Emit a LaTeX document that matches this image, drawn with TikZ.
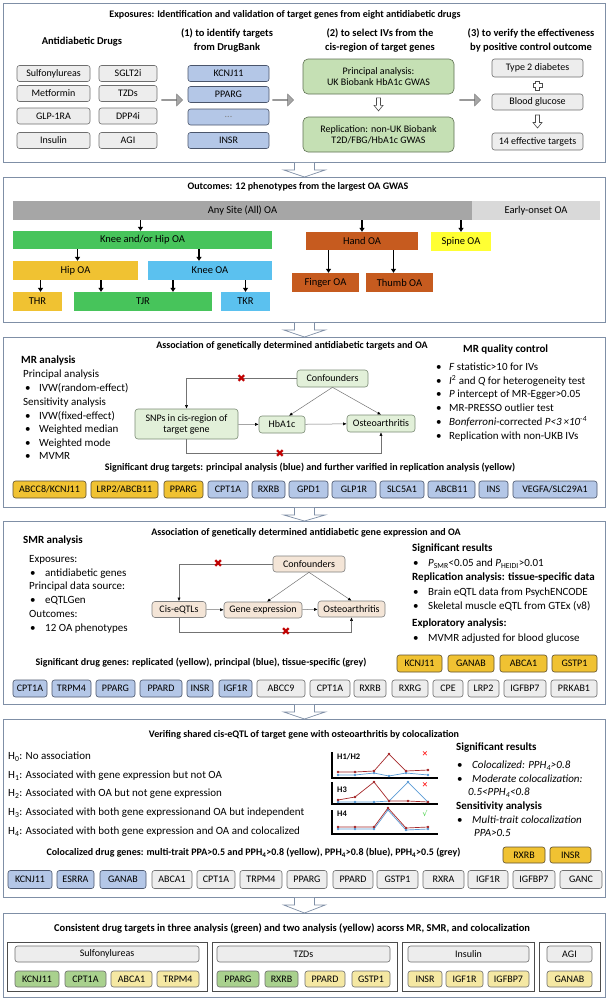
\documentclass[tikz,border=0pt]{standalone}
\usepackage{fontspec}
\setmainfont{Carlito}
\newfontfamily\symfont{DejaVu Sans}
\usepackage{xcolor}
\usetikzlibrary{arrows.meta, calc, shapes.arrows}

\definecolor{panelline}{HTML}{7F8FA6}
\definecolor{drugfill}{HTML}{EDEDED}
\definecolor{drugline}{HTML}{6E6E6E}
\definecolor{tgtfill}{HTML}{B4C7E7}
\definecolor{tgtline}{HTML}{4A556B}
\definecolor{ivfill}{HTML}{C5E0B4}
\definecolor{ivline}{HTML}{5E7052}
\definecolor{mrfill}{HTML}{E2F0D9}
\definecolor{mrline}{HTML}{7A8A74}
\definecolor{smrfill}{HTML}{F4E5D7}
\definecolor{smrline}{HTML}{7F7F7F}
\definecolor{repfill}{HTML}{F0C232}
\definecolor{repline}{HTML}{5E5030}
\definecolor{oagray}{HTML}{A6A6A6}
\definecolor{oalight}{HTML}{D9D9D9}
\definecolor{oagreen}{HTML}{47C45B}
\definecolor{oagold}{HTML}{F0C232}
\definecolor{oablue}{HTML}{5BC1EF}
\definecolor{oaorange}{HTML}{C65B1F}
\definecolor{oayellow}{HTML}{FFFF33}
\definecolor{consgreen}{HTML}{A9D18E}
\definecolor{consyellow}{HTML}{F5E8A3}
\definecolor{xred}{HTML}{C00000}
\definecolor{lnred}{HTML}{A5282A}
\definecolor{lnblue}{HTML}{5B9BD5}
\definecolor{okgreen}{HTML}{33CC33}

\tikzset{
  panel/.style={draw=panelline, line width=0.9pt, anchor=north west, inner sep=0pt},
  callout/.style={draw=panelline, line width=0.7pt, fill=white},
  ptitle/.style={inner sep=0pt, font=\fontsize{10}{12}\selectfont\bfseries},
  head/.style={inner sep=0pt, align=center, font=\fontsize{10.5}{14}\selectfont\bfseries},
  gbox/.style={draw, rounded corners=2.5pt, inner sep=0pt, align=center, line width=0.6pt, font=\fontsize{10}{11}\selectfont},
  drug/.style={gbox, fill=drugfill, draw=drugline},
  tgt/.style={gbox, fill=tgtfill, draw=tgtline},
  rep/.style={gbox, fill=repfill, draw=repline},
  tis/.style={gbox, fill=drugfill, draw=drugline},
  iv/.style={gbox, fill=ivfill, draw=ivline, rounded corners=5pt},
  mrbox/.style={gbox, fill=mrfill, draw=mrline, rounded corners=3pt},
  smrbox/.style={gbox, fill=smrfill, draw=smrline, rounded corners=3pt},
  grp/.style={draw=black!70, line width=0.6pt, inner sep=0pt},
  three/.style={gbox, fill=consgreen, draw=drugline},
  two/.style={gbox, fill=consyellow, draw=drugline},
  garrow/.style={single arrow, draw=black!55, fill=black!35, inner sep=0pt,
    minimum height=21pt, minimum width=12pt, single arrow head extend=3pt},
  harrow/.style={draw=black!70, fill=white, line width=0.6pt},
  oa/.style={inner sep=0pt, font=\fontsize{10.5}{12}\selectfont},
  oaarrow/.style={line width=1.6pt, -{Triangle[width=5pt,length=4pt]}},
  flow/.style={draw=black!55, line width=0.5pt, -{Latex[length=3.5pt,width=3pt,color=black]}},
  xmark/.style={inner sep=0pt, text=xred, font=\symfont\fontsize{11}{11}\selectfont},
  txt/.style={anchor=west, inner sep=0pt, font=\fontsize{11}{13}\selectfont, text height=7.5pt, text depth=2.5pt},
  btxt/.style={txt, font=\fontsize{11}{13}\selectfont\bfseries},
  itxt/.style={txt, font=\fontsize{11}{13}\selectfont\itshape},
}

\begin{document}
\begin{tikzpicture}[x=1pt, y=-1pt]
\useasboundingbox (0,0) rectangle (609,1004);

% panels
\node[panel, minimum width=602, minimum height=159] (p1) at (3,3) {};
\node[panel, minimum width=602, minimum height=145] (p2) at (3,177) {};
\node[panel, minimum width=602, minimum height=170] (p3) at (3,337) {};
\node[panel, minimum width=602, minimum height=183] (p4) at (3,521) {};
\node[panel, minimum width=602, minimum height=178] (p5) at (3,719) {};
\node[panel, minimum width=602, minimum height=84] (p6) at (3,913) {};
\foreach \a/\b in {p1/p2, p2/p3, p3/p4, p4/p5, p5/p6}
  \filldraw[callout] ($(\a.south)+(-10,0)$) -- ++(0,7) -- ++(-11,0) -- (\b.north)
    -- ($(\a.south)+(21,7)$) -- ++(-11,0) -- ++(0,-7);

% exposures
\node[ptitle] (t1) at (285,15) {Exposures: Identification and validation of target genes from eight antidiabetic drugs};
\node[head] (hdrug) at (82,42) {Antidiabetic Drugs};
\node[head] (hid) at (227,40) {(1) to identify targets\\from DrugBank};
\node[head] (hiv) at (380,40) {(2) to select IVs from the\\cis-region of target genes};
\node[head] (hpc) at (531,40) {(3) to verify the effectiveness\\by positive control outcome};
\foreach \y/\a/\b [count=\i] in {73.5/Sulfonylureas/SGLT2i, 93.5/Metformin/TZDs, 116/GLP-1RA/DPP4i, 140.5/Insulin/AGI} {
  \node[drug, minimum width=73, minimum height=16] (da\i) at (53.5,\y) {\a};
  \node[drug, minimum width=58, minimum height=16] (db\i) at (128,\y) {\b};
}
\foreach \y/\t [count=\i] in {73.5/KCNJ11, 94.5/PPARG, 117/\textcolor{black!50}{...}, 140.5/INSR}
  \node[tgt, minimum width=81, minimum height=16] (tg\i) at (228.5,\y) {\t};
\node[garrow] (ga1) at (172,100) {};
\node[garrow] (ga2) at (283,100) {};
\node[garrow] (ga3) at (470,100) {};
\node[iv, minimum width=151, minimum height=35] (ivp) at (378.5,76.5) {Principal analysis:\\UK Biobank HbA1c GWAS};
\node[iv, minimum width=151, minimum height=35] (ivr) at (378.5,134.5) {Replication: non-UK Biobank\\T2D/FBG/HbA1c GWAS};
\node[drug, minimum width=91, minimum height=18] (t2d) at (537.5,68) {Type 2 diabetes};
\node[drug, minimum width=91, minimum height=16] (bg) at (537.5,102) {Blood glucose};
\node[drug, minimum width=91, minimum height=17] (eff) at (537.5,141.5) {14 effective targets};
\coordinate (hd1) at ($(ivp.south)!0.45!(ivr.north)$);
\coordinate (hd2) at ($(bg.south)!0.5!(eff.north)$);
\foreach \c in {hd1, hd2}
  \draw[harrow, shift={(\c)}] (-2,-6.5) -- (2,-6.5) -- (2,1) -- (4.5,1) -- (0,6.5) -- (-4.5,1) -- (-2,1) -- cycle;
\coordinate (pl) at ($(t2d.south)!0.5!(bg.north)$);
\draw[harrow, shift={(pl)}] (-1.8,-4.6) -- (1.8,-4.6) -- (1.8,-1.8) -- (4.6,-1.8)
  -- (4.6,1.8) -- (1.8,1.8) -- (1.8,4.6) -- (-1.8,4.6) -- (-1.8,1.8) -- (-4.6,1.8) -- (-4.6,-1.8) -- (-1.8,-1.8) -- cycle;

% outcomes
\node[ptitle] (t2) at (298,187) {Outcomes: 12 phenotypes from the largest OA GWAS};
\node[oa, fill=oagray, minimum width=459, minimum height=19] (anysite) at (242.5,210.5) {Any Site (All) OA};
\node[oa, fill=oalight, minimum width=128, minimum height=19] (early) at (536,210.5) {Early-onset OA};
\node[oa, fill=oagreen, minimum width=259, minimum height=18] (kh) at (142.5,240) {Knee and/or Hip OA};
\node[oa, fill=oaorange, minimum width=112, minimum height=18] (hand) at (362,241) {Hand OA};
\node[oa, fill=oayellow, minimum width=60, minimum height=19] (spine) at (461,241.5) {Spine OA};
\node[oa, fill=oagold, minimum width=125, minimum height=19] (hip) at (75.5,270.5) {Hip OA};
\node[oa, fill=oablue, minimum width=124, minimum height=19] (knee) at (210,270.5) {Knee OA};
\node[oa, fill=oagold, minimum width=49, minimum height=19] (thr) at (37.5,301.5) {THR};
\node[oa, fill=oagreen, minimum width=138, minimum height=19] (tjr) at (143,301.5) {TJR};
\node[oa, fill=oablue, minimum width=49, minimum height=19] (tkr) at (245.5,301.5) {TKR};
\node[oa, fill=oaorange, minimum width=67, minimum height=19] (finger) at (325.5,282.5) {Finger OA};
\node[oa, fill=oaorange, minimum width=67, minimum height=19] (thumb) at (399.5,282.5) {Thumb OA};
\draw[oaarrow] ([xshift=-2pt]kh.north |- anysite.south) -- ([xshift=-2pt]kh.north);
\draw[oaarrow] (hand.north |- anysite.south) -- (hand.north);
\draw[oaarrow] (spine.north |- anysite.south) -- (spine.north);
\draw[oaarrow] ([xshift=2pt]hip.north |- kh.south) -- ([xshift=2pt]hip.north);
\draw[oaarrow] ([xshift=-11pt]knee.north |- kh.south) -- ([xshift=-11pt]knee.north);
\draw[oaarrow] ([xshift=3pt]thr.north |- hip.south) -- ([xshift=3pt]thr.north);
\draw[oaarrow] ([xshift=-42pt]tjr.north |- hip.south) -- ([xshift=-42pt]tjr.north);
\draw[oaarrow] ([xshift=30pt]tjr.north |- knee.south) -- ([xshift=30pt]tjr.north);
\draw[oaarrow] (tkr.north |- knee.south) -- (tkr.north);
\draw[oaarrow] ([xshift=3pt]finger.north |- hand.south) -- ([xshift=3pt]finger.north);
\draw[oaarrow] ([xshift=-6pt]thumb.north |- hand.south) -- ([xshift=-6pt]thumb.north);

% MR
\node[ptitle] (t3) at (292,346) {Association of genetically determined antidiabetic targets and OA};
\node[btxt] (mrh) at (21,361) {MR analysis};
\foreach \y/\t [count=\i] in {375/Principal analysis, 403/Sensitivity analysis}
  \node[txt] (mrs\i) at (23,\y) {\t};
\foreach \y/\t [count=\i] in {389/IVW(random-effect), 417/IVW(fixed-effect), 430/Weighted median, 444/Weighted mode, 457/MVMR} {
  \node[txt] (mrd\i) at (25,\y) {\textbullet};
  \node[txt] (mrl\i) at (39,\y) {\t};
}
\node[btxt] (qch) at (463,350) {MR quality control};
\foreach \y/\t [count=\i] in {368/\textit{F} statistic>10 for IVs, 382/\textit{I}\textsuperscript{2} and \textit{Q} for heterogeneity test,
    395/\textit{P} intercept of MR-Egger>0.05, 409/MR-PRESSO outlier test,
    423/\textit{Bonferroni}-corrected \textit{P<3\,×10\textsuperscript{-4}}, 437/Replication with non-UKB IVs} {
  \node[txt] (qcd\i) at (436,\y) {\textbullet};
  \node[txt] (qcl\i) at (449,\y) {\t};
}
\node[mrbox, minimum width=103, minimum height=30] (snps) at (186.5,424) {SNPs in cis-region of\\target gene};
\node[mrbox, minimum width=46, minimum height=17] (hba) at (282,424.5) {HbA1c};
\node[mrbox, minimum width=68, minimum height=17] (oa3) at (381,423.5) {Osteoarthritis};
\node[mrbox, minimum width=71, minimum height=17] (conf3) at (332.5,378.5) {Confounders};
\draw[flow] (snps) -- (hba);
\draw[flow] (hba) -- (oa3);
\draw[flow] (conf3.south) -- ([xshift=7pt]hba.north);
\draw[flow] (conf3.south) -- (oa3.north);
\draw[flow] (conf3.west) -| node[pos=0.25, xmark] (x3a) {✖} (snps.north);
\draw[flow] (snps.south) -- ++(0,14) -| node[pos=0.24, xmark] (x3b) {✖} (oa3.south);
\node[ptitle] (s3) at (310,468) {Significant drug targets: principal analysis (blue) and further varified in replication analysis (yellow)};
\foreach \l/\r/\g/\s [count=\i] in {13/86/{ABCC8/KCNJ11}/rep, 91/158/{LRP2/ABCB11}/rep, 164/203/PPARG/rep,
    208/248/CPT1A/tgt, 252/285/RXRB/tgt, 289/328/GPD1/tgt, 332/376/GLP1R/tgt, 380/424/SLC5A1/tgt,
    428/475/ABCB11/tgt, 479/508/INS/tgt, 513/597/{VEGFA/SLC29A1}/tgt}
  \node[\s, minimum width={\r-\l}, minimum height=17] (mrg\i) at ({(\l+\r)/2},489.5) {\g};

% SMR
\node[ptitle] (t4) at (306,533) {Association of genetically determined antidiabetic gene expression and OA};
\node[btxt] (smrh) at (23,541) {SMR analysis};
\foreach \y/\t [count=\i] in {560/Exposures:, 587/Principal data source:, 615/Outcomes:}
  \node[txt] (sms\i) at (29,\y) {\t};
\foreach \y/\t [count=\i] in {574/antidiabetic genes, 601/eQTLGen, 629/12 OA phenotypes} {
  \node[txt] (smd\i) at (30,\y) {\textbullet};
  \node[txt] (sml\i) at (45,\y) {\t};
}
\foreach \y/\t [count=\i] in {549/Significant results, 578/Replication analysis: tissue-specific data, 624/Exploratory analysis:}
  \node[btxt] (srh\i) at (412,\y) {\t};
\foreach \y/\t [count=\i] in {564/\textit{P}\textsubscript{SMR}<0.05 and \textit{P}\textsubscript{HEIDI}>0.01,
    593/Brain eQTL data from PsychENCODE, 607/Skeletal muscle eQTL from GTEx (v8), 639/MVMR adjusted for blood glucose} {
  \node[txt] (srd\i) at (413,\y) {\textbullet};
  \node[txt] (srl\i) at (428,\y) {\t};
}
\node[smrbox, minimum width=72, minimum height=16] (conf4) at (309,564) {Confounders};
\node[smrbox, minimum width=54, minimum height=16] (cis) at (179,609.5) {Cis-eQTLs};
\node[smrbox, minimum width=78, minimum height=16] (gene) at (263,610) {Gene expression};
\node[smrbox, minimum width=67, minimum height=16] (oa4) at (351.5,609) {Osteoarthritis};
\draw[flow] (cis) -- (gene);
\draw[flow] (gene) -- (oa4);
\draw[flow] (conf4.south) -- ([xshift=4pt]gene.north);
\draw[flow] (conf4.south) -- (oa4.north);
\draw[flow] (conf4.west) -| node[pos=0.29, xmark] (x4a) {✖} (cis.north);
\draw[flow] (cis.south) -- ++(0,14) -| node[pos=0.31, xmark] (x4b) {✖} (oa4.south);
\node[ptitle] (s4) at (201,663) {Significant drug genes: replicated (yellow), principal (blue), tissue-specific (grey)};
\foreach \l/\r/\g [count=\i] in {397/442/KCNJ11, 448/494/GANAB, 500/547/ABCA1, 552/597/GSTP1}
  \node[rep, minimum width={\r-\l}, minimum height=17] (smy\i) at ({(\l+\r)/2},663.5) {\g};
\foreach \l/\r/\g/\s [count=\i] in {13/47/CPT1A/tgt, 52/91/TRPM4/tgt, 96/135/PPARG/tgt, 140/182/PPARD/tgt,
    187/213/INSR/tgt, 219/252/IGF1R/tgt, 257/305/ABCC9/tis, 310/350/CPT1A/tis, 354/386/RXRB/tis,
    392/428/RXRG/tis, 433/463/CPE/tis, 468/499/LRP2/tis, 504/546/IGFBP7/tis, 551/597/PRKAB1/tis}
  \node[\s, minimum width={\r-\l}, minimum height=17] (smg\i) at ({(\l+\r)/2},688.5) {\g};

% colocalization
\node[ptitle] (t5) at (304,735) {Verifing shared cis-eQTL of target gene with osteoarthritis by colocalization};
\foreach \y/\t [count=\i] in {757/H\textsubscript{0}: No association,
    776/H\textsubscript{1}: Associated with gene expression but not OA,
    794/H\textsubscript{2}: Associated with OA but not gene expression,
    813/H\textsubscript{3}: Associated with both gene expressionand OA but independent,
    832/H\textsubscript{4}: Associated with both gene expression and OA and colocalized}
  \node[txt] (hyp\i) at (8,\y) {\t};
\draw[line width=1.3pt] (332,752) -- (332,778) -- (438,778);
\draw[line width=1.3pt] (332,782) -- (332,804) -- (438,804);
\draw[line width=1.3pt] (332,810) -- (332,834) -- (438,834);
\draw[lnblue, line width=0.7pt, mark=*, mark size=0.8pt] plot coordinates {(338,775) (355,775) (374,773) (389,776) (406,773) (428,775)};
\draw[lnred, line width=0.7pt, mark=*, mark size=0.8pt] plot coordinates {(338,772) (355,772) (374,771) (389,754) (406,771) (428,770)};
\draw[lnblue, line width=0.7pt, mark=*, mark size=0.8pt] plot coordinates {(338,802) (355,802) (374,802) (389,801) (408,782) (428,802)};
\draw[lnred, line width=0.7pt, mark=*, mark size=0.8pt] plot coordinates {(338,800) (355,797) (374,782) (389,801) (408,801) (428,802)};
\draw[lnblue, line width=0.7pt, mark=*, mark size=0.8pt] plot coordinates {(338,829) (355,829) (374,829) (388,810) (406,830) (428,829)};
\draw[lnred, line width=0.7pt, mark=*, mark size=0.8pt] plot coordinates {(338,827) (355,827) (374,827) (388,808) (406,828) (428,827)};
\node[anchor=west, inner sep=0pt, font=\fontsize{8.5}{9}\selectfont\bfseries] (c12) at (337,757) {H1/H2};
\node[anchor=west, inner sep=0pt, font=\fontsize{8.5}{9}\selectfont\bfseries] (c3) at (337,790) {H3};
\node[anchor=west, inner sep=0pt, font=\fontsize{8.5}{9}\selectfont\bfseries] (c4) at (337,814) {H4};
\node[inner sep=0pt, text=red, font=\symfont\fontsize{7.5}{7.5}\selectfont] (k12) at (425,754) {✕};
\node[inner sep=0pt, text=red, font=\symfont\fontsize{7.5}{7.5}\selectfont] (k3) at (425,785) {✕};
\node[inner sep=0pt, text=okgreen, font=\symfont\fontsize{7.5}{7.5}\selectfont] (k4) at (425,814) {√};
\node[btxt] (cor1) at (456,748) {Significant results};
\node[btxt] (cor2) at (456,807) {Sensitivity analysis};
\foreach \y/\t [count=\i] in {766/Colocalized: PPH\textsubscript{4}>0.8, 780/Moderate colocalization:, 821/Multi-trait colocalization} {
  \node[txt] (cod\i) at (457,\y) {\textbullet};
  \node[itxt] (col\i) at (472,\y) {\t};
}
\node[itxt] (col4) at (468,793) {0.5<PPH\textsubscript{4}<0.8};
\node[itxt] (col5) at (474,834) {PPA>0.5};
\node[ptitle] (s5) at (253.5,853) {Colocalized drug genes: multi-trait PPA>0.5 and PPH\textsubscript{4}>0.8 (yellow), PPH\textsubscript{4}>0.8 (blue), PPH\textsubscript{4}>0.5 (grey)};
\foreach \l/\r/\g [count=\i] in {503/545/RXRB, 550/591/INSR}
  \node[rep, minimum width={\r-\l}, minimum height=16] (coy\i) at ({(\l+\r)/2},855) {\g};
\foreach \l/\r/\g/\s [count=\i] in {8/52/KCNJ11/tgt, 57/94/ESRRA/tgt, 100/146/GANAB/tgt, 152/192/ABCA1/tis,
    197/235/CPT1A/tis, 240/282/TRPM4/tis, 287/327/PPARG/tis, 333/373/PPARD/tis, 377/418/GSTP1/tis,
    423/464/RXRA/tis, 468/508/IGF1R/tis, 513/555/IGFBP7/tis, 560/602/GANC/tis}
  \node[\s, minimum width={\r-\l}, minimum height=18] (cog\i) at ({(\l+\r)/2},879.5) {\g};

% consistent targets
\node[ptitle, font=\fontsize{10.5}{12}\selectfont\bfseries] (t6) at (292,928) {Consistent drug targets in three analysis (green) and two analysis (yellow) acorss MR, SMR, and colocalization};
\foreach \l/\r/\n/\h in {7/207/sulf/Sulfonylureas, 212/397/tzd/TZDs, 402/534/ins/Insulin, 539/600/agi/AGI}
  \node[grp, minimum width={\r-\l}, minimum height=49] (g\n) at ({(\l+\r)/2},966.5) {};
\foreach \l/\r/\n/\h in {15/199/sulf/Sulfonylureas, 217/390/tzd/TZDs, 408/529/ins/Insulin, 547/592/agi/AGI}
  \node[drug, minimum width={\r-\l}, minimum height=16] (h\n) at ({(\l+\r)/2},954) {\h};
\foreach \l/\r/\g/\s [count=\i] in {15/59/KCNJ11/three, 65/106/CPT1A/three, 111/152/ABCA1/two, 157/199/TRPM4/two,
    217/259/PPARG/three, 265/298/RXRB/three, 305/345/PPARD/two, 352/390/GSTP1/two,
    408/442/INSR/two, 446/483/IGF1R/two, 488/529/IGFBP7/two, 547/592/GANAB/two}
  \node[\s, minimum width={\r-\l}, minimum height=16] (cg\i) at ({(\l+\r)/2},979) {\g};
\end{tikzpicture}
\end{document}
